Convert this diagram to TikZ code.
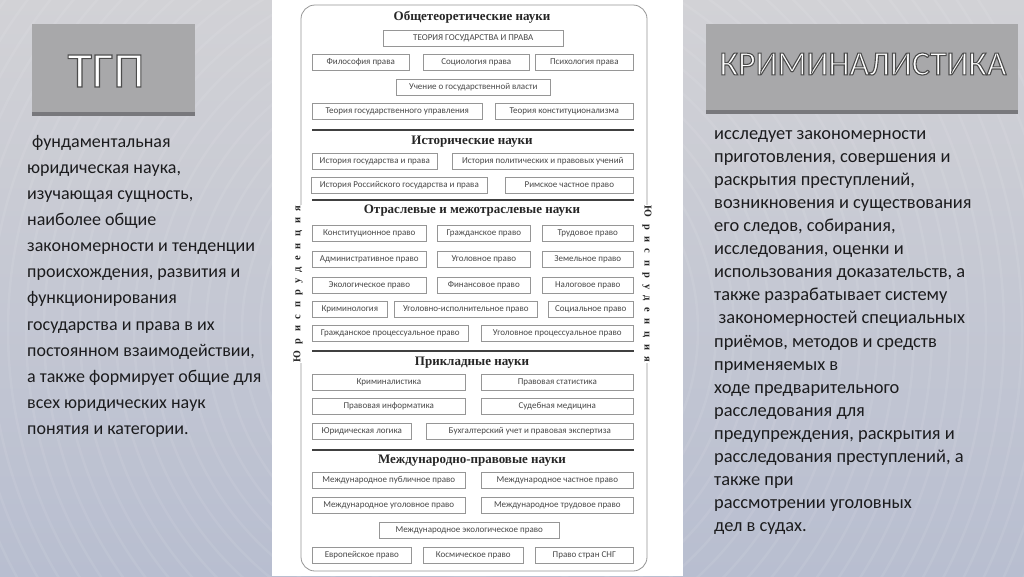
\documentclass[tikz,border=0pt]{standalone}
\usepackage{fontspec}
\setmainfont{Carlito}
\newfontfamily\boxfont{Carlito}
\newfontfamily\headfont{Liberation Serif}

\definecolor{fonsdalt}{RGB}{210,210,214}
\definecolor{fonsbaix}{RGB}{184,190,208}
\definecolor{titolgris}{RGB}{168,168,170}
\definecolor{titolvora}{RGB}{120,120,124}
\definecolor{voracaixa}{RGB}{150,150,150}
\definecolor{textcaixa}{RGB}{72,72,72}
\definecolor{textfosc}{RGB}{28,28,30}

\tikzset{
	pravo/.style={draw=voracaixa, line width=0.6pt, inner sep=0pt, minimum height=16pt,
		anchor=north west, text=textcaixa, font=\boxfont\fontsize{9}{10}\selectfont},
	capcal/.style={inner sep=0pt, text=black!85, font=\headfont\bfseries\fontsize{13}{15}\selectfont},
	separador/.style={draw=black!75, line width=1.4pt},
	vertical/.style={fill=white, inner sep=1pt, text=black!85,
		font=\headfont\bfseries\fontsize{10.5}{12}\selectfont\addfontfeature{LetterSpace=62}},
	titol/.style={inner sep=0pt, text=white},
	cos/.style={inner sep=0pt, anchor=north west, align=left, text=textfosc}
}

\newcommand{\contorn}[1]{\special{pdf:literal direct 0.3 G 1.1 w 2 Tr}#1\special{pdf:literal direct 0 Tr}}

\begin{document}
\begin{tikzpicture}[x=1pt, y=-1pt]
	\useasboundingbox (0,0) rectangle (1024,576);
	
	% Fons
	\shade[top color=fonsdalt, bottom color=fonsbaix] (0,0) rectangle (1024,576);
	\begin{scope}
		\clip (0,0) rectangle (1024,576);
		\foreach \r in {30,48,...,620}
		\draw[white, opacity=0.08, line width=2.5pt] (470,330) circle (\r);
	\end{scope}
	
	% Panell blanc
	\fill[white] (272,0) rectangle (683,576);
	\draw[voracaixa, line width=0.8pt, rounded corners=14pt] (301,5) rectangle (647,571);
	
	% Titols
	\fill[titolgris] (32,24) rectangle (195,112);
	\fill[titolvora] (32,112) rectangle (195,116);
	\node[titol, font=\fontsize{50}{50}\selectfont] (tgp) at (106,71) {\contorn{ТГП}};
	
	\fill[titolgris] (706,24) rectangle (1018,110);
	\fill[titolvora] (706,110) rectangle (1018,114);
	\node[titol, font=\fontsize{34}{34}\selectfont] (krim) at (863,64) {\contorn{КРИМИНАЛИСТИКА}};
	
	% Text esquerre
	\node[cos, font=\fontsize{18}{26.1}\selectfont] (textL) at (27,135) {%
		\hspace{5pt}фундаментальная\\
		юридическая наука,\\
		изучающая сущность,\\
		наиболее общие\\
		закономерности и тенденции\\
		происхождения, развития и\\
		функционирования\\
		государства и права в их\\
		постоянном взаимодействии,\\
		а также формирует общие для\\
		всех юридических наук\\
		понятия и категории.};
	
	% Text dret
	\node[cos, font=\fontsize{18.4}{23.1}\selectfont] (textR) at (714,130) {%
		исследует закономерности\\
		приготовления, совершения и\\
		раскрытия преступлений,\\
		возникновения и существования\\
		его следов, собирания,\\
		исследования, оценки и\\
		использования доказательств, а\\
		также разрабатывает систему\\
		\hspace{4.5pt}закономерностей специальных\\
		приёмов, методов и средств\\
		применяемых в\\
		ходе предварительного\\
		расследования для\\
		предупреждения, раскрытия и\\
		расследования преступлений, а\\
		также при\\
		рассмотрении уголовных\\
		дел в судах.};
	
	% Capcaleres
	\node[capcal] (hObsch) at (472,17) {Общетеоретические науки};
	\node[capcal] (hIstor) at (472,142) {Исторические науки};
	\node[capcal] (hOtrasl) at (472,211) {Отраслевые и межотраслевые науки};
	\node[capcal] (hPrikl) at (472,363) {Прикладные науки};
	\node[capcal] (hMezhd) at (472,461) {Международно-правовые науки};
	
	% Separadors
	\foreach \y in {130,200,351,450}
	\draw[separador] (312,\y) -- (634,\y);
	
	% Caixes
	\foreach \nom/\xa/\xb/\ya/\txt in {
		teor/383/563/30/ТЕОРИЯ ГОСУДАРСТВА И ПРАВА,
		fil/312/409/54/Философия права,
		soc/423/529/54/Социология права,
		psi/535/633/54/Психология права,
		uch/396/550/79/Учение о государственной власти,
		tgu/312/482/103/Теория государственного управления,
		tk/495/633/103/Теория конституционализма,
		igp/312/437/153/История государства и права,
		ipu/452/633/153/История политических и правовых учений,
		irg/311/487/177/История Российского государства и права,
		rim/505/633/177/Римское частное право,
		konst/312/426/225/Конституционное право,
		grazh/437/530/225/Гражданское право,
		trud/542/633/225/Трудовое право,
		admin/312/426/251/Административное право,
		ugol/437/530/251/Уголовное право,
		zem/542/633/251/Земельное право,
		ekol/312/426/277/Экологическое право,
		fin/437/530/277/Финансовое право,
		nal/542/633/277/Налоговое право,
		krimn/312/387/301/Криминология,
		uip/394/537/301/Уголовно-исполнительное право,
		socp/548/633/301/Социальное право,
		gpp/312/468/325/Гражданское процессуальное право,
		upp/481/633/325/Уголовное процессуальное право,
		krist/312/465/374/Криминалистика,
		stat/481/633/374/Правовая статистика,
		inf/312/465/398/Правовая информатика,
		sud/481/633/398/Судебная медицина,
		logik/312/411/423/Юридическая логика,
		buh/426/633/423/Бухгалтерский учет и правовая экспертиза,
		mpp/312/465/472/Международное публичное право,
		mchp/481/633/472/Международное частное право,
		mup/312/465/497/Международное уголовное право,
		mtp/481/633/497/Международное трудовое право,
		mep/379/559/522/Международное экологическое право,
		evr/312/411/547/Европейское право,
		kosm/423/523/547/Космическое право,
		sng/535/633/547/Право стран СНГ}
	\node[pravo, minimum width={\xb-\xa}] (\nom) at (\xa,\ya) {\txt};
	
	% Юриспруденция
	\node[vertical, rotate=90] (jurL) at (298,284) {Юриспруденция};
	\node[vertical, rotate=-90] (jurR) at (647,284) {Юриспруденция};
	
\end{tikzpicture}
\end{document}
